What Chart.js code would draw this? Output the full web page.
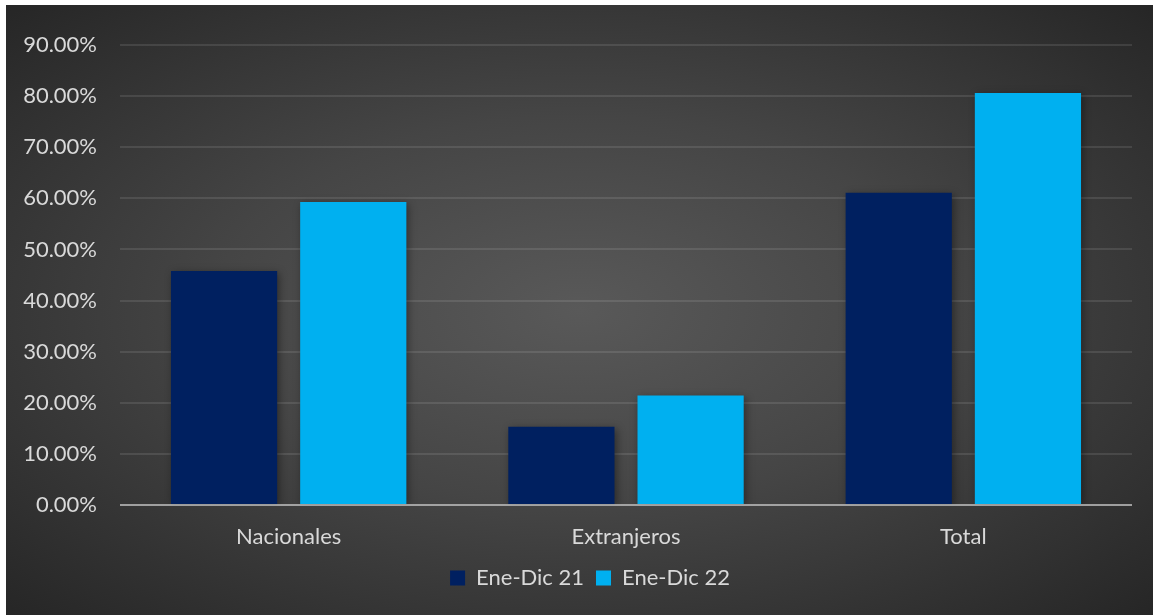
<!DOCTYPE html>
<html lang="es">
<head>
    <meta charset="UTF-8">
    <title>Nacionales / Extranjeros / Total</title>
    <script src="https://cdn.jsdelivr.net/npm/chart.js"></script>
    <style>
        html, body {
            margin: 0;
            padding: 0;
            background: #ffffff;
        }
        #wrap {
            position: absolute;
            left: 6px;
            top: 5px;
            width: 1147px;
            height: 610px;
            background: radial-gradient(ellipse at 50% 50%, #595959 0%, #454545 45%, #262626 100%);
        }
    </style>
</head>
<body>

<div id="wrap">
    <canvas id="chart" width="1147" height="610"></canvas>
</div>

<script>
    const categories = ['Nacionales', 'Extranjeros', 'Total'];
    const seriesNames = ['Ene-Dic 21', 'Ene-Dic 22'];
    const ene21 = [45.8, 15.3, 61.1];
    const ene22 = [59.3, 21.4, 80.6];
    const yTicks = [0, 10, 20, 30, 40, 50, 60, 70, 80, 90];

    const textColor = '#d9d9d9';
    const fontFamily = 'Lato, "Open Sans", sans-serif';

    // soft shadow behind the bars, like the original
    const barShadow = {
        id: 'barShadow',
        beforeDatasetsDraw(chart) {
            const ctx = chart.ctx;
            ctx.save();
            ctx.shadowColor = 'rgba(0, 0, 0, 0.4)';
            ctx.shadowBlur = 8;
            ctx.shadowOffsetX = 2;
            ctx.shadowOffsetY = 2;
        },
        afterDatasetsDraw(chart) {
            chart.ctx.restore();
        }
    };

    // base line drawn over the bars
    const zeroLine = {
        id: 'zeroLine',
        afterDatasetsDraw(chart) {
            const ctx = chart.ctx;
            const y = chart.scales.y.getPixelForValue(0);
            ctx.save();
            ctx.strokeStyle = 'rgba(190, 190, 190, 0.75)';
            ctx.lineWidth = 2;
            ctx.beginPath();
            ctx.moveTo(chart.chartArea.left, y);
            ctx.lineTo(chart.chartArea.right, y);
            ctx.stroke();
            ctx.restore();
        }
    };

    // legend sits a bit right of the canvas centre in the original
    const legendShift = {
        id: 'legendShift',
        afterLayout(chart) {
            if (chart.legend) {
                chart.legend.left += 21;
                chart.legend.right += 21;
            }
        }
    };

    new Chart(document.getElementById('chart'), {
        type: 'bar',
        data: {
            labels: categories,
            datasets: [
                {
                    label: seriesNames[0],
                    data: ene21,
                    backgroundColor: '#002060',
                    barPercentage: 0.822,
                    categoryPercentage: 0.766
                },
                {
                    label: seriesNames[1],
                    data: ene22,
                    backgroundColor: '#00b0f0',
                    barPercentage: 0.822,
                    categoryPercentage: 0.766
                }
            ]
        },
        options: {
            responsive: false,
            animation: false,
            layout: {
                padding: { top: 40, right: 21, left: 0, bottom: 16 }
            },
            plugins: {
                legend: {
                    position: 'bottom',
                    labels: {
                        color: textColor,
                        font: { family: fontFamily, size: 22 },
                        boxWidth: 15,
                        boxHeight: 15,
                        padding: 12
                    }
                },
                tooltip: { enabled: false }
            },
            scales: {
                x: {
                    afterFit(scale) { scale.height = 50; },
                    grid: { display: false, drawTicks: false },
                    border: { display: false },
                    ticks: {
                        color: textColor,
                        font: { family: fontFamily, size: 22 },
                        padding: 19
                    }
                },
                y: {
                    min: 0,
                    max: 90,
                    afterFit(scale) { scale.width = 114; },
                    afterBuildTicks(scale) {
                        scale.ticks = yTicks.map(v => ({ value: v }));
                    },
                    grid: {
                        color: 'rgba(255, 255, 255, 0.1)',
                        lineWidth: 2,
                        drawTicks: false
                    },
                    border: { display: false },
                    ticks: {
                        color: textColor,
                        font: { family: fontFamily, size: 22 },
                        padding: 23,
                        callback: v => v.toFixed(2) + '%'
                    }
                }
            }
        },
        plugins: [barShadow, zeroLine, legendShift]
    });
</script>

</body>
</html>
